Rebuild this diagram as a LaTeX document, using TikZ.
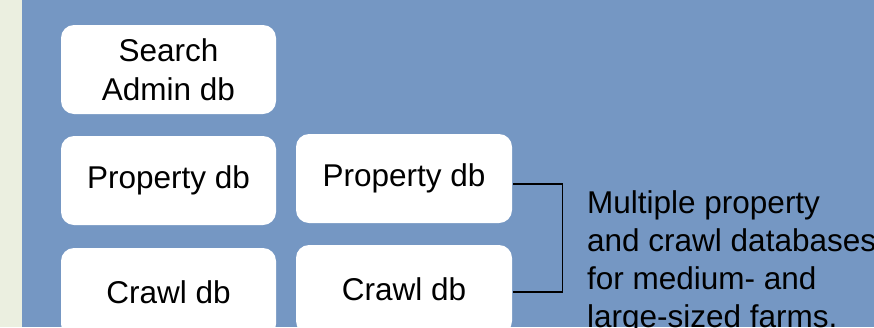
\documentclass[tikz,border=0pt]{standalone}
\usepackage{fontspec}
\setmainfont{Liberation Sans}
\definecolor{bgblue}{HTML}{7597C3}
\definecolor{strip}{HTML}{EBEFE0}
\begin{document}
\begin{tikzpicture}[x=1pt,y=-1pt,
  dbbox/.style={rectangle, rounded corners=13pt, fill=white, draw=none,
    minimum width=215pt, minimum height=89pt, inner sep=0pt, align=center,
    font=\fontsize{31.5}{39.5}\selectfont},
  note/.style={inner sep=0pt, align=left, font=\fontsize{31.5}{38}\selectfont}]
\useasboundingbox (0,0) rectangle (874,327);
\fill[strip] (0,0) rectangle (22,327);
\fill[bgblue] (22,0) rectangle (874,327);
\node[dbbox] (sa) at (168.5,69.5) {Search\\Admin db};
\node[dbbox] (p1) at (168.5,180.5) {Property db};
\node[dbbox] (c1) at (168.5,292.5) {Crawl db};
\node[dbbox, minimum width=216pt] (p2) at (404,178.5) {Property db};
\node[dbbox, minimum width=216pt] (c2) at (404,289.5) {Crawl db};
\coordinate (brk) at (562.5,238);
\draw[line width=1.9pt] ([shift={(1,5.5)}]p2.east) -| (brk) |- ([shift={(1,2.5)}]c2.east);
\node[note, anchor=base west] (txt) at (587,327.3) {Multiple property\\and crawl databases\\for medium- and\\large-sized farms.};
\end{tikzpicture}
\end{document}
